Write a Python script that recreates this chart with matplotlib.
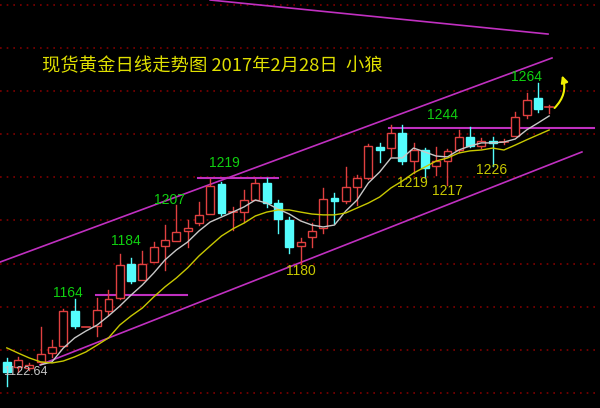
import numpy as np
import matplotlib.pyplot as plt
from matplotlib.patches import Rectangle

plt.rcParams['font.family'] = ['Noto Sans CJK SC', 'DejaVu Sans']

# Tageskerzen (Open, High, Low, Close)
opens = [1134.4, 1132.0, 1131.6, 1134.4, 1138.5, 1141.8, 1158.0, 1150.6, 1151.1, 1158.0,
         1164.0, 1179.8, 1172.4, 1180.7, 1188.2, 1190.5, 1195.1, 1198.8, 1203.0, 1216.9,
         1203.9, 1203.9, 1209.5, 1217.4, 1208.1, 1200.2, 1188.2, 1192.4, 1196.5, 1210.4,
         1209.1, 1215.6, 1219.7, 1234.1, 1233.6, 1240.6, 1227.6, 1232.7, 1225.3, 1227.6,
         1232.7, 1238.7, 1234.6, 1236.9, 1236.4, 1239.2, 1249.0, 1256.8, 1252.7]
highs = [1136.2, 1136.7, 1133.9, 1150.6, 1144.6, 1158.9, 1163.8, 1150.8, 1164.0, 1167.8,
         1184.6, 1182.6, 1185.9, 1190.0, 1197.9, 1207.2, 1200.2, 1208.6, 1219.3, 1217.9,
         1206.3, 1214.2, 1219.3, 1219.7, 1209.5, 1201.6, 1191.9, 1198.8, 1215.1, 1212.8,
         1224.8, 1221.1, 1235.5, 1236.0, 1244.3, 1244.3, 1236.0, 1233.6, 1234.1, 1233.2,
         1242.0, 1243.4, 1238.3, 1238.7, 1238.0, 1250.4, 1259.2, 1263.6, 1253.6]
lows = [1123.2, 1129.7, 1130.6, 1133.9, 1136.7, 1141.8, 1150.1, 1150.4, 1146.4, 1156.2,
        1163.6, 1171.0, 1172.4, 1180.7, 1177.0, 1190.5, 1187.7, 1197.9, 1203.0, 1202.6,
        1195.6, 1199.3, 1209.5, 1206.3, 1194.2, 1184.9, 1179.8, 1187.7, 1194.2, 1198.8,
        1208.1, 1207.2, 1219.3, 1227.2, 1229.9, 1226.2, 1222.0, 1219.7, 1221.1, 1216.5,
        1231.8, 1234.1, 1233.6, 1225.3, 1235.5, 1239.2, 1247.6, 1250.4, 1249.9]
closes = [1129.7, 1135.3, 1133.0, 1138.1, 1141.3, 1158.0, 1151.1, 1150.6, 1158.5, 1163.6,
          1179.4, 1171.9, 1179.8, 1187.7, 1191.0, 1194.7, 1196.5, 1202.6, 1216.0, 1203.5,
          1204.0, 1209.5, 1217.4, 1208.1, 1200.7, 1187.7, 1190.0, 1195.1, 1210.0, 1209.1,
          1215.6, 1219.7, 1234.6, 1232.7, 1240.6, 1227.6, 1232.7, 1224.4, 1227.6, 1232.3,
          1238.7, 1234.6, 1236.9, 1236.0, 1237.0, 1248.0, 1255.9, 1251.7, 1253.1]

# Gleitende Durchschnitte (weiss ab Kerze 3, gelb ab Kerze 0)
ma_fast = [1133.0, 1134.4, 1140.8, 1145.5, 1148.7, 1151.5, 1155.7, 1160.3, 1165.4, 1170.1,
           1175.6, 1181.7, 1186.3, 1190.0, 1195.1, 1199.3, 1201.6, 1203.9, 1206.3, 1209.5,
           1208.1, 1205.3, 1203.0, 1199.8, 1197.9, 1197.0, 1197.9, 1204.4, 1209.5, 1217.4,
           1222.5, 1229.0, 1229.0, 1233.6, 1231.8, 1229.9, 1229.5, 1232.7, 1234.6, 1236.0,
           1236.0, 1236.4, 1237.8, 1242.0, 1245.2, 1248.5]
ma_slow = [1140.9, 1138.5, 1136.2, 1134.4, 1133.9, 1134.8, 1136.7, 1139.0, 1142.2, 1145.5,
           1151.5, 1155.7, 1159.4, 1164.5, 1169.2, 1173.3, 1178.0, 1183.5, 1188.2, 1192.8,
           1196.1, 1198.8, 1202.1, 1203.9, 1204.9, 1204.9, 1203.9, 1203.0, 1202.6, 1202.6,
           1203.5, 1205.8, 1208.1, 1210.9, 1215.1, 1218.3, 1222.0, 1224.8, 1227.6, 1229.0,
           1231.3, 1232.3, 1232.7, 1233.6, 1232.7, 1235.0, 1237.4, 1239.7, 1242.0]

# Trendlinien (Kerzenindex, Preis)
upper_line = ([-0.6, 48.25], [1180.7, 1275.4])
lower_line = ([2.94, 50.9], [1133.0, 1231.8])
top_line = ([18.0, 47.9], [1302.3, 1286.5])
levels = [(7.9, 15.95, 1165.4), (16.9, 24.0, 1219.7), (33.8, 52.0, 1243.0)]

# Beschriftungen
hi_labels = [('1264', 46.0, 1266.6), ('1244', 38.6, 1249.0), ('1219', 19.3, 1226.7),
             ('1207', 14.4, 1209.5), ('1184', 10.5, 1190.5), ('1164', 5.4, 1166.4)]
lo_labels = [('1180', 26.0, 1176.6), ('1219', 35.9, 1217.4), ('1217', 38.96, 1213.7),
             ('1226', 42.9, 1223.4)]
title = '现货黄金日线走势图 2017年2月28日  小狼'

up_col = '#e04040'
down_col = '#54fcfc'

fig = plt.figure(figsize=(6, 4.08), dpi=100, facecolor='black')
ax = fig.add_axes([0, 0, 1, 1])
ax.set_facecolor('black')
ax.set_xlim(-0.6, 52.5)
ax.set_ylim(1113.0, 1302.3)
ax.axis('off')

for p in range(1120, 1301, 20):
    ax.axhline(p, color='#800000', linestyle=(0, (1, 3)), linewidth=1.2, zorder=0)

w = 0.7
for i, (o, h, l, c) in enumerate(zip(opens, highs, lows, closes)):
    lo_b, hi_b = min(o, c), max(o, c)
    if c >= o:
        ax.plot([i, i], [hi_b, h], color=up_col, lw=1, zorder=3)
        ax.plot([i, i], [l, lo_b], color=up_col, lw=1, zorder=3)
        if hi_b - lo_b < 0.6:
            ax.plot([i - w / 2, i + w / 2], [o, o], color=up_col, lw=1.2, zorder=3)
        else:
            ax.add_patch(Rectangle((i - w / 2, lo_b), w, hi_b - lo_b, facecolor='black',
                                   edgecolor=up_col, lw=1, zorder=4))
    else:
        ax.plot([i, i], [l, h], color=down_col, lw=1, zorder=3)
        ax.add_patch(Rectangle((i - w / 2, lo_b), w, hi_b - lo_b, facecolor=down_col,
                               edgecolor=down_col, lw=1, zorder=4))

ax.plot(np.arange(3, 3 + len(ma_fast)), ma_fast, color='#c8c8c8', lw=1, zorder=5)
ax.plot(np.arange(len(ma_slow)), ma_slow, color='#c8c800', lw=1, zorder=5)

mag = '#c030c0'
for xs, ys in (upper_line, lower_line, top_line):
    ax.plot(xs, ys, color=mag, lw=1.2, zorder=2)
for x0, x1, p in levels:
    ax.plot([x0, x1], [p, p], color=mag, lw=1.5, zorder=2)

for t, x, y in hi_labels:
    ax.text(x, y, t, color='#10d010', fontsize=10, family='Liberation Sans',
            ha='center', va='center', zorder=6)
for t, x, y in lo_labels:
    ax.text(x, y, t, color='#c8c800', fontsize=10, family='Liberation Sans',
            ha='center', va='center', zorder=6)
ax.text(0.005, 1129.7, '1122.64', color='#c8c8c8', fontsize=9, family='Liberation Sans',
        ha='left', va='center', zorder=6, transform=ax.get_yaxis_transform())

ax.annotate('', xy=(49.05, 1268.5), xytext=(48.3, 1251.3),
            arrowprops=dict(arrowstyle='-|>', color='#f0f000', lw=1.5,
                            connectionstyle='arc3,rad=0.35', mutation_scale=10), zorder=6)

ax.text(0.07, 0.838, title, transform=ax.transAxes, color='#e0e000', fontsize=13.2,
        ha='left', va='center', zorder=6)

fig.savefig('out.png', dpi=100, facecolor='black')
